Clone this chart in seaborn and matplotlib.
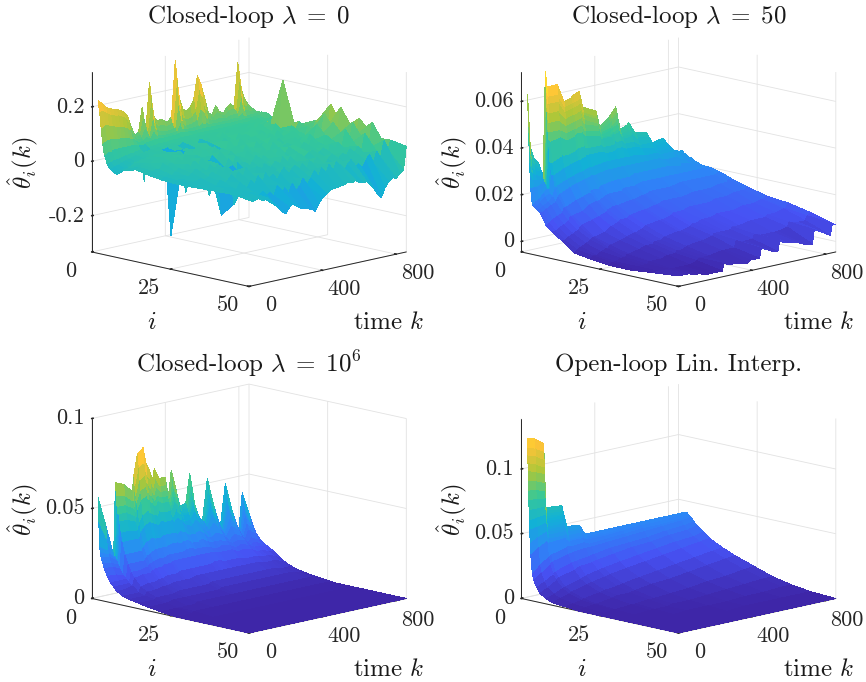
import numpy as np
import matplotlib
matplotlib.use('Agg')
import matplotlib.pyplot as plt
import seaborn as sns

# all surface heights below are in thousandths
# rows follow k, columns follow i

i_levels_a = [2, 2.5, 3, 3.5, 4, 5, 6, 8, 10, 14, 18, 22, 26, 30, 35, 40, 45, 50]
k_levels_a = [0, 20, 40, 60, 80, 100, 120, 140, 160, 180, 200, 220, 240, 260, 280, 300, 320, 340, 360, 380, 400, 420,
              440, 460, 480, 500, 520, 540, 560, 580, 600, 620, 640, 660, 680, 700, 720, 740, 760, 780, 800, 820, 840, 855]
theta_a = [
    [228, 190, 130, 75, 35, 0, -15, -29, -10, 4, -5, -12, -15, -15, -12, -10, -8, -8],
    [215, 190, 140, 85, 40, 5, -10, -20, -5, 10, 5, -5, -8, -10, -5, -12, -15, -24],
    [200, 180, 135, 85, 42, 10, -5, -12, 0, 15, 8, 0, -5, -8, -10, -5, -18, -20],
    [190, 170, 130, 85, 44, 12, 0, -8, 10, 20, 5, -5, 5, -5, -12, -15, -10, -15],
    [185, 165, 125, 82, 44, 15, 5, 0, 12, 15, 25, 5, -5, 0, -15, -8, -20, -30],
    [180, 160, 122, 80, 45, 18, 8, 5, 15, 25, 10, 15, 5, -8, 5, -20, -15, -23],
    [175, 155, 118, 78, 45, 20, 12, 8, 18, 15, 20, 5, 20, 0, -10, 5, -25, -40],
    [165, 148, 112, 75, 45, 22, 15, 10, 20, 30, 15, 25, 5, 15, -5, -15, -30, -55],
    [150, 130, 100, 70, 45, 25, 18, 15, 20, 20, 35, 10, 15, -5, 15, -25, -20, -68],
    [105, 90, 72, 55, 42, 28, 20, 18, 25, 35, 10, 30, 0, 20, -10, 5, -40, -85],
    [72, 65, 55, 48, 42, -90, 22, 20, 15, 25, 40, 5, 25, -10, 20, -20, -30, -95],
    [78, 68, 58, 50, 42, 30, 25, 22, 30, 15, 20, 35, -5, 25, -15, 15, -45, -75],
    [168, 130, 90, 60, 45, 32, 25, 25, 20, 35, 5, 25, 20, 0, 30, -25, -10, -65],
    [80, 70, 60, 52, 45, 32, 28, 25, -285, 20, 30, 10, -170, -120, 5, 20, -40, -78],
    [255, 200, 130, 75, 50, 35, 28, 30, 25, 40, 15, 35, 0, 30, -20, -5, -25, -87],
    [130, 105, 78, 58, 48, 35, 30, 22, 35, 15, 45, 10, 30, -15, 25, 10, -50, -90],
    [105, 85, 68, 55, 48, 35, 30, 35, 20, 30, 25, 40, 5, 25, -5, -20, -15, -95],
    [110, 88, 68, 55, 48, 38, 30, 25, -140, 40, 10, 25, 35, 0, 30, 5, -45, -100],
    [100, 82, 65, 55, 48, 38, 32, 35, 30, 20, 45, 15, 30, 20, -10, 25, -30, -110],
    [95, 80, 65, 55, 48, 38, 32, 28, 35, 45, 20, 35, 5, 40, 15, -15, -5, -85],
    [110, 88, 70, 58, 50, 40, 35, 40, 25, -150, 35, 20, 45, 10, 30, 10, -35, -66],
    [313, 250, 160, 85, 55, 40, 32, 30, 45, 35, 20, 50, 15, 35, 0, 25, -10, -55],
    [175, 135, 90, 62, 50, 40, 35, 45, 25, 40, 55, 15, 35, 20, 40, -10, 15, -45],
    [130, 98, 72, 58, 50, 40, 35, 30, 40, 20, 30, 45, 10, 50, 5, 25, -20, -40],
    [120, 92, 70, 58, 48, 40, 38, 42, 28, 50, 20, 35, 40, 15, 35, -5, 20, -42],
    [130, 98, 72, 58, 48, 42, 35, 30, 45, 25, 55, 15, 30, 45, 10, 30, -15, -38],
    [155, 115, 80, 60, 50, 42, 38, 45, 25, 40, 30, 50, 20, 10, 40, 15, 25, -35],
    [240, 190, 125, 70, 50, 42, 35, 30, 50, 25, 45, 20, 55, 25, 5, 35, -5, -30],
    [205, 160, 105, 65, 50, 42, 38, 45, 30, 55, 15, 40, 30, 45, 20, 10, 30, -35],
    [150, 110, 78, 58, 50, 42, 35, 30, 45, 20, 50, 30, 15, 50, 35, -5, 15, -30],
    [95, 82, 68, 58, 50, 42, 38, 48, 25, 45, 25, 55, 35, 10, 40, 20, -10, -40],
    [85, 75, 65, 55, 50, 42, 35, 30, 50, 30, 55, 20, 40, 30, 5, 35, 10, -45],
    [115, 90, 70, 58, 50, 42, 40, 45, 28, 55, 20, 45, 15, 50, 30, -5, 25, -43],
    [90, 78, 66, 56, 50, 42, 38, 32, 48, 25, 50, 30, 55, 20, 40, 15, -10, -60],
    [80, 72, 64, 56, 48, 42, 40, 45, 30, 50, 20, 45, 25, 55, 10, 30, 5, -75],
    [100, 85, 70, 58, 50, 44, 38, 30, 50, 35, 55, 15, 50, 30, 45, 20, -15, -100],
    [110, 90, 72, 60, 50, 44, 42, 48, 32, 45, 25, 60, 25, 40, 15, 40, 10, -113],
    [96, 84, 70, 58, 50, 44, 40, 35, 55, 30, 50, 35, 55, 20, 50, 5, 30, -80],
    [255, 200, 130, 72, 52, 44, 42, 50, 35, 60, 25, 50, 30, 60, 25, 45, -5, -60],
    [150, 105, 78, 60, 52, 46, 40, 35, 55, 40, 60, 30, 85, 35, 90, 15, 35, -49],
    [111, 92, 74, 60, 52, 46, 45, 52, 38, 214, 45, 65, 40, 100, 30, 85, 10, -55],
    [90, 80, 70, 60, 54, 48, 44, 40, 60, 45, 70, 40, 120, 50, 110, 25, 70, -40],
    [75, 72, 68, 62, 56, 50, 48, 56, 45, 60, 50, 75, 70, 150, 60, 120, 30, -30],
    [60, 62, 64, 62, 65, 65, 65, 50, 45, 43, 60, 82, 150, 70, 120, 62, 65, 55],
]

i_levels_b = [2, 2.15, 2.3, 2.45, 2.6, 2.8, 3, 3.5, 4, 5, 6, 8, 10, 13, 17, 22, 28, 35, 42, 50]
k_levels_b = [0, 15, 33, 60, 85, 97, 106, 162, 198, 238, 248, 281, 300, 373, 392, 440, 450, 480, 502, 540, 550, 585,
              649, 676, 728, 738, 787, 826, 836, 855]
theta_b = [
    [64, 57, 50, 43, 36, 30, 24, 17, 16, 15, 14, 9, 7, 4, 0, -1, -2, -2, -1, 0],
    [41, 38, 36, 33, 30, 27, 24, 18, 16, 15, 14, 10, 7, 4, 1, 0, -1, -2, -1, 0],
    [36, 34, 33, 31, 29, 27, 24, 19, 17, 16, 15, 11, 8, 5, 2, 0, -1, -1, -1, 0],
    [33, 32, 31, 30, 28, 26, 25, 21, 19, 17, 16, 12, 9, 6, 3, 1, 0, -1, -1, 0],
    [27, 27, 26, 25, 25, 24, 24, 22, 20, 19, 17, 13, 10, 7, 4, 2, 0, -1, -1, -1],
    [72, 67, 62, 57, 52, 47, 43, 33, 28, 22, 19, 15, 12, 8, 5, 2, 1, 0, -1, -1],
    [65, 61, 58, 54, 50, 46, 42, 33, 28, 23, 20, 15, 12, 9, 5, 3, 1, 0, -1, -1],
    [65, 61, 58, 54, 50, 46, 43, 35, 30, 25, 22, 17, 13, 10, 6, 4, 2, 0, -1, -2],
    [57, 55, 53, 50, 47, 44, 41, 35, 31, 26, 23, 18, 15, 11, 8, 5, 3, 1, -1, -2],
    [58, 56, 54, 51, 48, 45, 42, 36, 32, 27, 24, 19, 16, 12, 9, 6, 3, 1, 0, -2],
    [59, 56, 54, 51, 48, 45, 43, 37, 32, 27, 24, 20, 16, 13, 10, 6, 4, 2, 1, 1],
    [60, 57, 55, 52, 49, 46, 43, 37, 33, 28, 25, 20, 17, 14, 10, 7, 4, 2, 1, 0],
    [53, 51, 50, 48, 46, 43, 41, 36, 33, 28, 25, 21, 18, 14, 11, 8, 5, 3, 1, 0],
    [50, 48, 47, 45, 44, 42, 40, 36, 33, 29, 26, 22, 18, 15, 12, 9, 6, 4, 2, -1],
    [43, 42, 42, 41, 40, 39, 38, 35, 32, 29, 26, 22, 19, 15, 12, 9, 6, 4, 2, 0],
    [46, 45, 44, 42, 41, 39, 38, 35, 32, 29, 26, 22, 19, 16, 13, 10, 7, 5, 2, 0],
    [47, 46, 45, 43, 42, 40, 39, 36, 33, 29, 26, 22, 19, 16, 13, 11, 8, 6, 5, 4],
    [50, 48, 47, 45, 43, 41, 40, 36, 33, 29, 26, 23, 20, 17, 14, 11, 8, 6, 4, 3],
    [40, 39, 39, 38, 38, 37, 36, 34, 32, 29, 26, 23, 20, 17, 14, 11, 9, 6, 4, 2],
    [41, 40, 40, 39, 38, 37, 36, 34, 32, 29, 26, 23, 20, 17, 14, 12, 9, 6, 4, 1],
    [42, 41, 41, 40, 39, 38, 37, 34, 32, 29, 26, 23, 20, 17, 14, 12, 9, 7, 6, 6],
    [37, 36, 36, 35, 35, 34, 34, 32, 31, 28, 26, 23, 20, 17, 14, 12, 10, 7, 5, 4],
    [36, 35, 35, 34, 34, 33, 33, 32, 30, 28, 26, 23, 20, 18, 15, 12, 10, 8, 5, 3],
    [31, 31, 31, 30, 30, 30, 30, 29, 28, 27, 25, 23, 20, 18, 15, 13, 10, 8, 5, 2],
    [32, 31, 31, 31, 31, 30, 30, 29, 28, 27, 25, 22, 20, 18, 15, 13, 11, 8, 6, 1],
    [32, 31, 31, 31, 31, 30, 30, 29, 28, 27, 25, 23, 20, 18, 15, 13, 11, 9, 8, 7],
    [26, 26, 26, 26, 26, 25, 25, 25, 25, 24, 23, 22, 20, 18, 16, 14, 11, 9, 7, 5],
    [25, 25, 25, 25, 25, 24, 24, 24, 24, 23, 22, 21, 20, 18, 16, 14, 12, 10, 7, 3],
    [25, 25, 25, 25, 24, 24, 24, 24, 23, 23, 22, 21, 20, 18, 17, 14, 12, 10, 9, 8],
    [22, 22, 22, 22, 21, 21, 21, 20, 20, 20, 20, 20, 20, 19, 17, 15, 13, 12, 10, 7],
]

i_levels_c = [2, 2.25, 2.5, 2.75, 3, 3.5, 4, 5, 6, 7, 8, 10, 12, 15, 18, 22, 27, 33, 40, 50]
k_levels_c = [0, 43, 85, 95, 140, 186, 195, 214, 245, 260, 278, 297, 306, 333, 365, 383, 398, 422, 444, 477, 499, 526,
              554, 569, 594, 628, 664, 692, 729, 765, 784, 820, 855]
theta_c = [
    [57, 44, 30, 27, 24, 21, 18, 14, 11, 9, 7, 5, 4, 3, 2, 1, 0, 0, 0, 0],
    [40, 33, 27, 25, 23, 20, 18, 14, 11, 9, 7, 5, 4, 3, 2, 1, 0, 0, 0, 0],
    [23, 22, 22, 21, 20, 18, 16, 13, 11, 9, 8, 5, 4, 3, 2, 1, 0, 0, 0, 0],
    [63, 56, 50, 46, 42, 36, 31, 24, 19, 15, 12, 8, 6, 4, 2, 1, 1, 0, 0, 0],
    [61, 55, 50, 46, 42, 36, 31, 24, 19, 15, 13, 9, 6, 4, 3, 1, 1, 0, 0, 0],
    [56, 51, 47, 43, 40, 35, 31, 24, 19, 16, 13, 9, 7, 4, 3, 1, 1, 0, 0, 0],
    [65, 59, 54, 50, 46, 39, 34, 26, 21, 17, 14, 10, 7, 4, 3, 2, 1, 0, 0, 0],
    [76, 69, 62, 56, 51, 43, 37, 28, 22, 18, 15, 10, 7, 5, 3, 2, 1, 0, 0, 0],
    [79, 71, 64, 58, 53, 45, 39, 30, 24, 19, 15, 11, 8, 5, 3, 2, 1, 0, 0, 0],
    [70, 64, 59, 54, 50, 43, 38, 29, 24, 19, 16, 11, 8, 5, 3, 2, 1, 0, 0, 0],
    [66, 61, 56, 52, 48, 42, 37, 29, 24, 19, 16, 11, 8, 5, 3, 2, 1, 0, 0, 0],
    [60, 56, 52, 49, 46, 41, 36, 29, 24, 20, 16, 11, 8, 5, 3, 2, 1, 0, 0, 0],
    [66, 61, 56, 52, 49, 43, 38, 30, 24, 20, 17, 12, 8, 5, 3, 2, 1, 0, 0, 0],
    [60, 56, 53, 50, 47, 42, 37, 30, 25, 20, 17, 12, 8, 5, 3, 2, 1, 0, 0, 0],
    [60, 56, 53, 50, 47, 42, 37, 30, 25, 20, 17, 12, 9, 5, 3, 2, 1, 0, 0, 0],
    [49, 47, 46, 44, 42, 38, 35, 29, 24, 20, 17, 12, 9, 5, 3, 2, 1, 0, 0, 0],
    [63, 58, 54, 50, 47, 42, 37, 30, 25, 21, 17, 12, 9, 6, 4, 2, 1, 0, 0, 0],
    [53, 50, 48, 45, 43, 39, 35, 29, 25, 21, 17, 12, 9, 6, 4, 2, 1, 0, 0, 0],
    [42, 41, 40, 38, 37, 34, 32, 27, 23, 20, 17, 12, 9, 6, 4, 2, 1, 0, 0, 0],
    [43, 41, 40, 38, 37, 34, 31, 27, 23, 20, 17, 12, 9, 6, 4, 2, 1, 0, 0, 0],
    [59, 54, 50, 46, 43, 38, 34, 28, 24, 20, 17, 13, 9, 6, 4, 2, 1, 0, 0, 0],
    [41, 39, 38, 36, 35, 32, 30, 26, 22, 19, 17, 13, 9, 6, 4, 2, 1, 0, 0, 0],
    [32, 31, 31, 30, 29, 28, 26, 23, 21, 18, 16, 12, 9, 6, 4, 2, 1, 0, 0, 0],
    [32, 31, 31, 30, 29, 28, 26, 23, 21, 18, 16, 12, 9, 6, 4, 2, 1, 0, 0, 0],
    [54, 50, 46, 42, 39, 34, 30, 25, 21, 19, 16, 12, 9, 6, 4, 2, 1, 0, 0, 0],
    [39, 37, 35, 33, 31, 28, 26, 23, 20, 18, 16, 12, 9, 6, 4, 2, 1, 0, 0, 0],
    [25, 24, 24, 23, 23, 22, 21, 19, 18, 16, 14, 11, 9, 6, 4, 2, 1, 0, 0, 0],
    [49, 45, 41, 38, 35, 30, 26, 22, 19, 17, 15, 11, 9, 6, 4, 2, 1, 0, 0, 0],
    [33, 31, 30, 28, 27, 25, 23, 20, 18, 16, 14, 11, 8, 6, 4, 2, 1, 0, 0, 0],
    [21, 20, 20, 19, 19, 18, 17, 16, 15, 14, 12, 10, 8, 5, 4, 2, 1, 0, 0, 0],
    [42, 38, 35, 32, 29, 25, 22, 18, 16, 14, 12, 10, 8, 5, 4, 2, 1, 0, 0, 0],
    [30, 28, 26, 24, 23, 21, 19, 16, 14, 13, 11, 9, 7, 5, 3, 2, 1, 0, 0, 0],
    [18, 17, 17, 16, 16, 15, 14, 13, 12, 11, 10, 7, 5, 3, 2, 1, 0, 0, 0, 0],
]

i_levels_d = [2, 2.05, 2.1, 2.15, 2.2, 2.27, 2.35, 2.42, 2.5, 2.6, 2.7, 2.85, 3, 3.5, 4, 5, 6, 8, 10, 14, 18, 24, 30, 36, 42, 50]
k_levels_d = [0, 40, 88, 100, 186, 213, 281, 311, 400, 500, 600, 700, 800, 855]
theta_d = [
    [125, 118, 112, 106, 100, 92, 85, 78, 70, 62, 55, 45, 36, 22, 16, 11, 7, 4, 2, 1, 0, 0, 0, 0, 0, 0],
    [123, 116, 110, 104, 98, 91, 84, 77, 70, 63, 56, 48, 40, 27, 20, 14, 10, 6, 4, 2, 1, 0, 0, 0, 0, 0],
    [118, 112, 106, 100, 95, 88, 82, 76, 70, 64, 58, 51, 44, 32, 25, 18, 14, 9, 6, 3, 2, 1, 0, 0, 0, 0],
    [68, 66, 64, 62, 60, 58, 56, 54, 52, 50, 48, 45, 42, 33, 27, 20, 16, 10, 7, 4, 2, 1, 0, 0, 0, 0],
    [67, 65, 63, 61, 60, 58, 56, 54, 52, 50, 48, 45, 43, 36, 30, 24, 19, 13, 10, 6, 4, 2, 1, 0, 0, 0],
    [50, 50, 49, 49, 48, 47, 46, 45, 44, 43, 42, 40, 39, 35, 31, 25, 21, 15, 11, 7, 5, 2, 1, 0, 0, 0],
    [49, 49, 48, 48, 47, 46, 45, 45, 44, 43, 42, 40, 39, 36, 32, 26, 22, 17, 13, 8, 5, 3, 1, 1, 0, 0],
    [41, 41, 41, 41, 40, 40, 40, 39, 39, 38, 38, 37, 37, 34, 32, 27, 23, 18, 14, 9, 6, 3, 2, 1, 0, 0],
    [41, 41, 41, 41, 40, 40, 40, 39, 39, 38, 38, 37, 37, 35, 33, 29, 25, 20, 16, 11, 8, 4, 2, 1, 0, 0],
    [41, 41, 41, 41, 40, 40, 40, 40, 40, 39, 39, 38, 38, 36, 34, 30, 27, 22, 18, 13, 9, 5, 3, 1, 1, 0],
    [41, 41, 41, 41, 41, 41, 40, 40, 40, 40, 40, 39, 39, 37, 35, 31, 28, 24, 20, 15, 11, 7, 4, 2, 1, 0],
    [41, 41, 41, 41, 41, 41, 41, 41, 40, 40, 40, 39, 39, 37, 36, 33, 30, 26, 22, 17, 13, 8, 5, 2, 1, 0],
    [41, 41, 41, 41, 41, 41, 41, 41, 41, 41, 40, 40, 40, 38, 37, 34, 31, 27, 24, 19, 15, 10, 6, 3, 1, 0],
    [41, 41, 41, 41, 41, 41, 41, 41, 41, 41, 41, 40, 40, 39, 38, 35, 33, 29, 25, 20, 16, 11, 6, 3, 1, 0],
]

i_ticks = [0, 25, 50]
k_ticks = [0, 400, 800]
z_ticks_a = [-0.2, 0, 0.2]
z_ticks_b = [0, 0.02, 0.04, 0.06]
z_ticks_c = [0, 0.05, 0.1]
z_ticks_d = [0, 0.05, 0.1]
z_labels_a = ['-0.2', '0', '0.2']
z_labels_b = ['0', '0.02', '0.04', '0.06']
z_labels_c = ['0', '0.05', '0.1']
z_labels_d = ['0', '0.05', '0.1']

W, H = 866, 682
SIDE = 354.0

sns.set_theme(style='white')
plt.rcParams['font.family'] = 'cmr10'
plt.rcParams['mathtext.fontset'] = 'cm'
plt.rcParams['axes.unicode_minus'] = False

parula = sns.blend_palette(['#3e26a8', '#4752f4', '#2d87f7', '#12b1d6', '#37c897', '#abc739', '#fec338', '#f9fb15'],
                           n_colors=256, as_cmap=True)

fig = plt.figure(figsize=(W / 100, H / 100), dpi=100)
fig.patch.set_facecolor('white')


def draw_panel(cx, cy, i_levels, k_levels, theta, zlim, clim, zticks, zlabels, title, title_y):
    left = (cx - 0.5135 * SIDE) / W
    bottom = (H - cy - 0.5135 * SIDE) / H
    ax = fig.add_axes([left, bottom, SIDE / W, SIDE / H], projection='3d', proj_type='ortho')
    ax.set_facecolor('none')
    ax.view_init(elev=12.66, azim=-45)
    ax.set_box_aspect((222, 222, 184))

    X, Y = np.meshgrid(i_levels, k_levels)
    Z = np.array(theta) / 1000.0
    ax.plot_surface(X, Y, Z, cmap=parula, vmin=clim[0], vmax=clim[1], rstride=1, cstride=1,
                    linewidth=0, antialiased=False, shade=False)

    ax.set_xlim(0, 50)
    ax.set_ylim(0, 855)
    ax.set_zlim(*zlim)
    ax.set_xticks(i_ticks)
    ax.set_yticks(k_ticks)
    ax.set_zticks(zticks)
    ax.set_xticklabels([str(t) for t in i_ticks], ha='center', va='bottom')
    ax.set_yticklabels([str(t) for t in k_ticks], ha='center', va='bottom')
    ax.set_zticklabels(zlabels, ha='right', va='center')
    ax.tick_params(axis='x', labelsize=16, pad=10, colors='#262626')
    ax.tick_params(axis='y', labelsize=16, pad=10, colors='#262626')
    ax.tick_params(axis='z', labelsize=16, pad=-5, colors='#262626')

    for axis in (ax.xaxis, ax.yaxis, ax.zaxis):
        axis.set_pane_color((1, 1, 1, 0))
        axis.pane.set_edgecolor('none')
        axis.line.set_color('#262626')
        axis.line.set_linewidth(0.7)
        axis._axinfo['grid'].update(color='#e2e2e2', linewidth=0.6)
        axis._axinfo['tick'].update(inward_factor=0.0, outward_factor=0.12)
    ax.zaxis.set_ticks_position('lower')

    fig.text(cx / W, 1 - title_y / H, title, fontsize=18, ha='center', va='center', color='#1a1a1a')
    fig.text((cx - 97) / W, 1 - (cy + 161) / H, r'$i$', fontsize=18, ha='center', va='center', color='#1a1a1a')
    fig.text((cx + 140) / W, 1 - (cy + 161) / H, r'time $k$', fontsize=18, ha='center', va='center', color='#1a1a1a')
    fig.text((cx - 226) / W, 1 - (cy + 1) / H, r'$\hat{\theta}_i(k)$', fontsize=18, rotation=90,
             ha='center', va='center', color='#1a1a1a')


draw_panel(249, 162, i_levels_a, k_levels_a, theta_a, (-0.333, 0.328), (-0.3, 0.3), z_ticks_a, z_labels_a,
           r'Closed-loop $\lambda\;=\;0$', 17)
draw_panel(678.5, 162, i_levels_b, k_levels_b, theta_b, (-0.0045, 0.0726), (-0.002, 0.073), z_ticks_b, z_labels_b,
           r'Closed-loop $\lambda\;=\;50$', 17)
draw_panel(249, 508.5, i_levels_c, k_levels_c, theta_c, (0, 0.1), (0, 0.085), z_ticks_c, z_labels_c,
           r'Closed-loop $\lambda\;=\;10^6$', 364)
draw_panel(678.5, 508.5, i_levels_d, k_levels_d, theta_d, (0, 0.139), (0, 0.138), z_ticks_d, z_labels_d,
           'Open-loop Lin. Interp.', 365)

fig.savefig('out.png', dpi=100)
